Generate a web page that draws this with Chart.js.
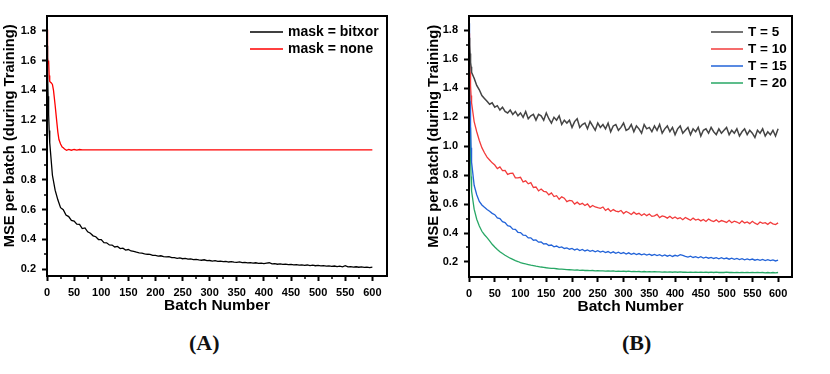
<!DOCTYPE html>
<html>
<head>
<meta charset="utf-8">
<script src="https://cdn.jsdelivr.net/npm/chart.js@4.4.1/dist/chart.umd.min.js"></script>
<style>
  html, body { margin: 0; padding: 0; background: #fff; }
  #page { position: relative; width: 830px; height: 374px; overflow: hidden; }
  .panel { position: absolute; top: 0; width: 415px; height: 320px; }
  .tag { position: absolute; top: 330px; font: bold 22px "Liberation Serif", "DejaVu Serif", serif; color: #111; }
</style>
</head>
<body>
<div id="page">
  <div class="panel" style="left:0"><canvas id="chartA"></canvas></div>
  <div class="panel" style="left:415px"><canvas id="chartB"></canvas></div>
  <div class="tag" style="left:189px">(A)</div>
  <div class="tag" style="left:622px">(B)</div>
</div>
<script>
'use strict';

// --- data ---
// batch numbers shared by most series (0..4, then every 5 batches)
const batches = [0, 1, 2, 3, 4,
  5, 10, 15, 20, 25, 30, 35, 40, 45, 50, 55, 60, 65, 70, 75, 80, 85, 90, 95, 100,
  105, 110, 115, 120, 125, 130, 135, 140, 145, 150, 155, 160, 165, 170, 175, 180, 185, 190, 195, 200,
  205, 210, 215, 220, 225, 230, 235, 240, 245, 250, 255, 260, 265, 270, 275, 280, 285, 290, 295, 300,
  305, 310, 315, 320, 325, 330, 335, 340, 345, 350, 355, 360, 365, 370, 375, 380, 385, 390, 395, 400,
  405, 410, 415, 420, 425, 430, 435, 440, 445, 450, 455, 460, 465, 470, 475, 480, 485, 490, 495, 500,
  505, 510, 515, 520, 525, 530, 535, 540, 545, 550, 555, 560, 565, 570, 575, 580, 585, 590, 595, 600];

// (A) mask = bitxor
const maskBitxor = [1.70, 1.52, 1.36, 1.24, 1.13,
  1.05, 0.83, 0.73, 0.665, 0.612, 0.598, 0.562, 0.552, 0.527, 0.522, 0.501, 0.500, 0.472, 0.476, 0.450, 0.440, 0.423, 0.417, 0.398, 0.397,
  0.377, 0.376, 0.362, 0.361, 0.348, 0.352, 0.337, 0.340, 0.327, 0.331, 0.321, 0.318, 0.313, 0.309, 0.306, 0.302, 0.299, 0.298, 0.292, 0.291,
  0.287, 0.289, 0.283, 0.281, 0.283, 0.276, 0.277, 0.272, 0.275, 0.269, 0.271, 0.266, 0.268, 0.263, 0.265, 0.261, 0.259, 0.262, 0.256, 0.257,
  0.253, 0.256, 0.251, 0.253, 0.249, 0.251, 0.247, 0.250, 0.246, 0.245, 0.248, 0.243, 0.245, 0.241, 0.243, 0.240, 0.242, 0.238, 0.240, 0.236,
  0.239, 0.242, 0.235, 0.236, 0.232, 0.234, 0.231, 0.233, 0.229, 0.231, 0.228, 0.230, 0.226, 0.228, 0.225, 0.227, 0.223, 0.226, 0.222, 0.224,
  0.221, 0.223, 0.219, 0.221, 0.218, 0.220, 0.216, 0.219, 0.215, 0.222, 0.214, 0.216, 0.213, 0.215, 0.212, 0.214, 0.211, 0.213, 0.209, 0.212];

// (A) mask = none: settles at exactly 1.0 after ~70 batches
const noneBatches = [0, 1, 2, 3, 4, 5, 8, 10, 12, 15, 18, 20, 22, 25, 28, 30, 33, 36, 40, 45, 50, 55, 60, 65, 70, 600];
const maskNone = [1.81, 1.62, 1.58, 1.60, 1.50, 1.46, 1.45, 1.44, 1.40, 1.30, 1.19, 1.12, 1.07, 1.04, 1.02, 1.015, 1.004, 0.998, 1.004, 0.998, 1.003, 0.999, 1.003, 1.0, 1.0, 1.0];

// (B) T = 5, 10, 15, 20
const t5 = [1.75, 1.70, 1.64, 1.58, 1.55,
  1.51, 1.47, 1.42, 1.39, 1.35, 1.33, 1.31, 1.29, 1.30, 1.27, 1.28, 1.25, 1.27, 1.24, 1.23, 1.25, 1.22, 1.24, 1.21, 1.23,
  1.20, 1.24, 1.19, 1.21, 1.22, 1.18, 1.22, 1.21, 1.18, 1.23, 1.19, 1.16, 1.20, 1.18, 1.21, 1.15, 1.18, 1.16, 1.18, 1.13,
  1.17, 1.19, 1.13, 1.15, 1.16, 1.12, 1.17, 1.14, 1.11, 1.16, 1.13, 1.15, 1.12, 1.16, 1.10, 1.14, 1.15, 1.11, 1.13, 1.16,
  1.11, 1.12, 1.15, 1.10, 1.14, 1.12, 1.09, 1.15, 1.12, 1.13, 1.10, 1.14, 1.11, 1.15, 1.09, 1.12, 1.14, 1.10, 1.13, 1.08,
  1.12, 1.14, 1.09, 1.11, 1.13, 1.08, 1.12, 1.10, 1.13, 1.07, 1.11, 1.12, 1.09, 1.13, 1.10, 1.08, 1.12, 1.09, 1.11, 1.13,
  1.08, 1.11, 1.09, 1.12, 1.07, 1.10, 1.12, 1.08, 1.11, 1.09, 1.06, 1.11, 1.09, 1.12, 1.07, 1.10, 1.08, 1.11, 1.07, 1.12];
const t10 = [1.78, 1.63, 1.51, 1.42, 1.35,
  1.30, 1.17, 1.10, 1.04, 0.99, 0.955, 0.925, 0.905, 0.885, 0.870, 0.845, 0.857, 0.831, 0.833, 0.805, 0.812, 0.814, 0.782, 0.781, 0.785,
  0.753, 0.761, 0.740, 0.748, 0.715, 0.718, 0.691, 0.704, 0.688, 0.685, 0.664, 0.677, 0.652, 0.658, 0.633, 0.650, 0.641, 0.617, 0.625, 0.622,
  0.600, 0.613, 0.597, 0.605, 0.590, 0.601, 0.578, 0.590, 0.580, 0.575, 0.571, 0.580, 0.556, 0.568, 0.549, 0.562, 0.551, 0.547, 0.556, 0.535,
  0.549, 0.540, 0.528, 0.544, 0.530, 0.536, 0.521, 0.533, 0.520, 0.531, 0.515, 0.519, 0.529, 0.507, 0.518, 0.513, 0.503, 0.516, 0.500, 0.511,
  0.499, 0.506, 0.492, 0.507, 0.498, 0.488, 0.503, 0.490, 0.496, 0.484, 0.494, 0.480, 0.497, 0.486, 0.479, 0.491, 0.476, 0.486, 0.480, 0.473,
  0.488, 0.471, 0.482, 0.476, 0.466, 0.484, 0.470, 0.477, 0.465, 0.481, 0.468, 0.459, 0.476, 0.467, 0.472, 0.460, 0.474, 0.463, 0.458, 0.470];
const t15 = [1.85, 1.56, 1.31, 1.13, 0.99,
  0.89, 0.73, 0.665, 0.618, 0.594, 0.578, 0.563, 0.551, 0.536, 0.527, 0.505, 0.500, 0.478, 0.472, 0.451, 0.446, 0.427, 0.425, 0.405, 0.403,
  0.386, 0.384, 0.366, 0.367, 0.350, 0.352, 0.337, 0.338, 0.324, 0.326, 0.314, 0.317, 0.305, 0.310, 0.299, 0.304, 0.293, 0.297, 0.288, 0.293,
  0.283, 0.290, 0.279, 0.286, 0.276, 0.283, 0.273, 0.280, 0.270, 0.278, 0.268, 0.275, 0.265, 0.272, 0.262, 0.270, 0.260, 0.268, 0.258, 0.265,
  0.255, 0.263, 0.253, 0.260, 0.251, 0.258, 0.249, 0.256, 0.247, 0.254, 0.245, 0.252, 0.244, 0.250, 0.241, 0.249, 0.240, 0.247, 0.238, 0.246,
  0.241, 0.250, 0.245, 0.238, 0.233, 0.240, 0.231, 0.237, 0.229, 0.236, 0.227, 0.233, 0.226, 0.232, 0.224, 0.230, 0.222, 0.229, 0.221, 0.227,
  0.219, 0.226, 0.218, 0.224, 0.217, 0.223, 0.215, 0.221, 0.214, 0.220, 0.212, 0.218, 0.211, 0.217, 0.210, 0.216, 0.209, 0.214, 0.207, 0.212];
const t20 = [1.75, 1.40, 1.13, 0.93, 0.79,
  0.69, 0.565, 0.495, 0.448, 0.412, 0.388, 0.368, 0.346, 0.322, 0.303, 0.286, 0.271, 0.258, 0.246, 0.236, 0.226, 0.218, 0.209, 0.203, 0.196,
  0.191, 0.186, 0.182, 0.178, 0.175, 0.171, 0.168, 0.165, 0.163, 0.160, 0.158, 0.156, 0.155, 0.153, 0.151, 0.150, 0.149, 0.147, 0.146, 0.145,
  0.144, 0.145, 0.142, 0.143, 0.141, 0.142, 0.140, 0.141, 0.139, 0.140, 0.138, 0.139, 0.137, 0.138, 0.136, 0.138, 0.135, 0.137, 0.135, 0.136,
  0.134, 0.136, 0.133, 0.135, 0.133, 0.134, 0.132, 0.134, 0.132, 0.133, 0.131, 0.133, 0.131, 0.132, 0.130, 0.132, 0.130, 0.131, 0.129, 0.131,
  0.129, 0.131, 0.129, 0.130, 0.128, 0.130, 0.128, 0.130, 0.128, 0.129, 0.128, 0.130, 0.127, 0.129, 0.127, 0.129, 0.127, 0.128, 0.127, 0.129,
  0.127, 0.128, 0.126, 0.128, 0.126, 0.128, 0.126, 0.128, 0.126, 0.127, 0.126, 0.128, 0.126, 0.127, 0.125, 0.127, 0.125, 0.127, 0.125, 0.127];

const xMajorTicks = [0, 50, 100, 150, 200, 250, 300, 350, 400, 450, 500, 550, 600];
const yMajorTicks = [0.2, 0.4, 0.6, 0.8, 1.0, 1.2, 1.4, 1.6, 1.8];

const FONT = '"Liberation Sans", Arial, sans-serif';
const pts = (xs, ys) => xs.map((x, i) => ({ x, y: ys[i] }));

// box frame, minor ticks and the in-plot legend
const framePlugin = {
  id: 'frame',
  afterDraw(chart, args, opts) {
    const { ctx, chartArea: a, scales } = chart;
    ctx.save();
    ctx.strokeStyle = '#000';
    ctx.lineWidth = 2;
    ctx.strokeRect(a.left, a.top, a.right - a.left, a.bottom - a.top);

    // minor ticks halfway between the labelled ones
    ctx.lineWidth = 1.5;
    ctx.beginPath();
    for (let i = 0; i < xMajorTicks.length - 1; i++) {
      const px = Math.round(scales.x.getPixelForValue((xMajorTicks[i] + xMajorTicks[i + 1]) / 2));
      ctx.moveTo(px, a.bottom); ctx.lineTo(px, a.bottom + 3);
    }
    for (let i = 0; i < yMajorTicks.length - 1; i++) {
      const py = Math.round(scales.y.getPixelForValue((yMajorTicks[i] + yMajorTicks[i + 1]) / 2));
      ctx.moveTo(a.left, py); ctx.lineTo(a.left - 3, py);
    }
    ctx.stroke();

    // legend
    ctx.font = 'bold ' + opts.fontSize + 'px ' + FONT;
    ctx.textBaseline = 'middle';
    ctx.textAlign = 'left';
    chart.data.datasets.forEach((ds, i) => {
      const y = opts.y + i * opts.rowH;
      ctx.strokeStyle = ds.borderColor;
      ctx.lineWidth = 1.5;
      ctx.beginPath();
      ctx.moveTo(opts.x, y); ctx.lineTo(opts.x + opts.lineLen, y);
      ctx.stroke();
      ctx.fillStyle = '#000';
      ctx.fillText(ds.label, opts.x + opts.lineLen + 5, y + 0.5);
    });
    ctx.restore();
  },
};

function makeOptions(cfg) {
  return {
    responsive: true,
    maintainAspectRatio: false,
    animation: false,
    events: [],
    layout: { padding: cfg.padding },
    elements: { point: { radius: 0 }, line: { tension: 0 } },
    plugins: {
      legend: { display: false },
      tooltip: { enabled: false },
      frame: cfg.legend,
    },
    scales: {
      x: {
        type: 'linear',
        min: 0,
        max: 627,
        afterFit: (s) => { s.height = 40; },
        border: { display: false },
        grid: { drawOnChartArea: false, tickLength: 5, tickWidth: 2, tickColor: '#000' },
        ticks: {
          stepSize: 50,
          includeBounds: false,
          maxRotation: 0,
          padding: 5,
          color: '#000',
          font: { family: FONT, size: 11, weight: 'bold' },
        },
        title: {
          display: true,
          text: 'Batch Number',
          color: '#000',
          padding: { top: 0, bottom: 1 },
          font: { family: FONT, size: 15.5, weight: 'bold' },
        },
      },
      y: {
        min: cfg.yMin,
        max: 1.9,
        afterFit: (s) => { s.width = cfg.yWidth; },
        border: { display: false },
        grid: { drawOnChartArea: false, tickLength: 5, tickWidth: 2, tickColor: '#000' },
        ticks: {
          stepSize: 0.2,
          includeBounds: false,
          padding: 6,
          color: '#000',
          font: { family: FONT, size: 11, weight: 'bold' },
          callback: (v) => v.toFixed(1),
        },
        title: {
          display: true,
          // leading spaces nudge the centred title up, as in the figure
          text: '     MSE per batch (during Training)',
          color: '#000',
          padding: { top: cfg.yTitlePad, bottom: 0 },
          font: { family: FONT, size: 14.7, weight: 'bold' },
        },
      },
    },
  };
}

// --- (A) ---
new Chart(document.getElementById('chartA'), {
  type: 'line',
  data: {
    datasets: [
      { label: 'mask = bitxor', data: pts(batches, maskBitxor), borderColor: '#000000', borderWidth: 1.3 },
      { label: 'mask = none', data: pts(noneBatches, maskNone), borderColor: '#ff0000', borderWidth: 1.3 },
    ],
  },
  options: makeOptions({
    padding: { left: 0, right: 28, top: 16, bottom: 4 },
    yMin: 0.153, yWidth: 47, yTitlePad: 1,
    legend: { x: 250, y: 32, rowH: 17, lineLen: 33, fontSize: 14 },
  }),
  plugins: [framePlugin],
});

// --- (B) ---
new Chart(document.getElementById('chartB'), {
  type: 'line',
  data: {
    datasets: [
      { label: 'T = 5', data: pts(batches, t5), borderColor: '#444444', borderWidth: 1.5 },
      { label: 'T = 10', data: pts(batches, t10), borderColor: '#f23b3b', borderWidth: 1.3 },
      { label: 'T = 15', data: pts(batches, t15), borderColor: '#2263d8', borderWidth: 1.3 },
      { label: 'T = 20', data: pts(batches, t20), borderColor: '#27a765', borderWidth: 1.3 },
    ],
  },
  options: makeOptions({
    padding: { left: 0, right: 38, top: 16, bottom: 3 },
    yMin: 0.096, yWidth: 54, yTitlePad: 10,
    legend: { x: 296, y: 32, rowH: 17, lineLen: 32, fontSize: 13.5 },
  }),
  plugins: [framePlugin],
});
</script>
</body>
</html>
